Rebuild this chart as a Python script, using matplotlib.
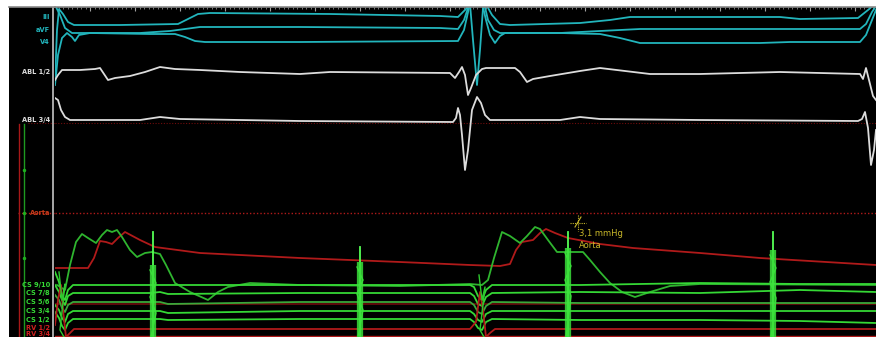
import numpy as np
import matplotlib.pyplot as plt
from matplotlib.ticker import MultipleLocator

# time in samples (screen columns), amplitude in display rows (0 at top)

# surface ECG
ecg_labels = ['III', 'aVF', 'V4']
ecg_label_y = [17, 30, 42]
iii_t = [55, 57, 59, 63, 68, 74, 120, 178, 188, 198, 210, 330, 440, 458, 465, 470, 473, 477, 480,
         483, 487, 492, 500, 510, 580, 610, 630, 780, 800, 858, 868, 876]
iii_v = [80, 30, 9, 14, 22, 25, 25, 24, 19, 14, 13, 14, 16, 17, 10, 4, 40, 85, 50,
         8, 6, 15, 24, 25, 23, 20, 17, 17, 19, 18, 10, 3]
avf_t = [55, 60, 65, 72, 140, 170, 185, 200, 300, 440, 458, 464, 468, 471, 484, 488, 494, 500,
         560, 600, 620, 640, 860, 866, 872, 876]
avf_v = [5, 15, 28, 33, 33, 31, 29, 27, 27, 28, 29, 20, 8, 3, 3, 20, 30, 33,
         33, 31, 30, 29, 29, 24, 12, 6]
v4_t = [55, 58, 62, 67, 72, 75, 79, 90, 150, 175, 185, 195, 205, 300, 458, 464, 469, 472, 482,
        486, 490, 495, 500, 505, 560, 600, 620, 640, 760, 790, 860, 866, 872, 876]
v4_v = [85, 55, 38, 33, 37, 41, 35, 33, 34, 34, 37, 41, 42, 42, 41, 30, 8, 3, 3,
        20, 35, 43, 36, 33, 33, 34, 38, 43, 43, 42, 42, 35, 20, 10]

# ablation catheter
abl12_t = [55, 58, 62, 80, 95, 100, 104, 108, 115, 130, 145, 160, 175, 200, 240, 300, 330, 450,
           455, 459, 462, 465, 468, 471, 476, 482, 486, 515, 520, 527, 533, 550, 580, 600, 650,
           700, 780, 860, 863, 866, 869, 873, 876]
abl12_v = [80, 75, 70, 70, 69, 68, 74, 80, 78, 76, 72, 67, 69, 70, 72, 74, 72, 73,
           78, 72, 67, 75, 95, 88, 75, 69, 68, 68, 72, 82, 79, 76, 71, 68, 74,
           74, 72, 74, 79, 68, 80, 96, 100]
abl34_t = [55, 58, 61, 65, 70, 140, 160, 180, 300, 453, 456, 458, 460, 462, 465, 468, 472, 477,
           481, 485, 490, 560, 580, 600, 700, 858, 862, 865, 868, 871, 874, 876]
abl34_v = [98, 100, 110, 117, 120, 120, 117, 119, 121, 122, 118, 108, 115, 135, 170, 150, 110, 97,
           103, 115, 120, 120, 117, 119, 120, 121, 119, 112, 128, 165, 150, 130]

# pressures
aorta_t = [55, 88, 94, 100, 106, 112, 118, 125, 140, 155, 200, 300, 400, 470, 500, 510, 516, 522,
           533, 540, 546, 555, 568, 600, 633, 700, 760, 876]
aorta_v = [268, 268, 258, 241, 242, 244, 238, 232, 240, 247, 253, 258, 262, 265, 266, 264, 250, 242,
           240, 233, 229, 233, 238, 244, 248, 253, 258, 265]
lv_t = [57, 65, 70, 76, 82, 88, 96, 102, 107, 112, 117, 122, 130, 137, 145, 152, 160, 166, 175,
        190, 208, 218, 228, 250, 300, 400, 470, 482, 488, 494, 502, 510, 520, 527, 535, 540, 548,
        557, 570, 583, 590, 600, 610, 622, 635, 650, 670, 700, 876]
lv_v = [285, 290, 265, 242, 234, 238, 243, 235, 230, 232, 230, 237, 250, 257, 253, 252, 254, 265, 283,
        292, 300, 292, 287, 283, 285, 286, 284, 285, 280, 258, 232, 236, 243, 236, 227, 229, 240,
        252, 252, 252, 260, 272, 283, 292, 297, 292, 286, 284, 285]

# coronary sinus and RV
cs_labels = ['CS 9/10', 'CS 7/8', 'CS 5/6', 'CS 3/4', 'CS 1/2']
cs_label_y = [285, 293, 302, 311, 320]
cs_t = [55, 59, 62, 65, 68, 73, 150, 160, 168, 300, 470, 474, 478, 482, 486, 492, 580, 700, 800, 876]
cs_v = [
    [272, 282, 296, 300, 290, 285, 285, 285, 285, 285, 285, 287, 296, 300, 290, 285, 285, 283, 284, 284],
    [285, 292, 300, 305, 296, 293, 293, 292, 294, 293, 293, 296, 304, 306, 297, 293, 292, 293, 290, 292],
    [295, 300, 308, 312, 305, 302, 302, 302, 304, 302, 302, 305, 312, 314, 306, 302, 303, 303, 303, 303],
    [305, 310, 318, 322, 314, 311, 311, 311, 313, 311, 311, 314, 320, 322, 314, 311, 311, 311, 311, 311],
    [312, 318, 326, 330, 323, 319, 319, 319, 320, 319, 319, 322, 328, 330, 322, 319, 320, 320, 321, 323],
]
rv_labels = ['RV 1/2', 'RV 3/4']
rv_label_y = [328, 334]
rv12_t = [55, 58, 61, 63, 66, 70, 74, 470, 476, 480, 483, 486, 490, 495, 876]
rv12_v = [325, 300, 285, 310, 337, 333, 329, 329, 322, 292, 310, 337, 333, 329, 329]

# far-field ventricular spikes and atrial clusters on CS
v_spike_t = [153, 360, 568, 773]
v_spike_top = [232, 247, 232, 232]
v_blob_top = [265, 262, 248, 250]
a_blob_t = [61, 481]
a_blob_top = [272, 275]

# caliper readout
cursor_t, cursor_v = 578, 223
cursor_text = ['3,1 mmHg', 'Aorta']

CYAN = '#22b5bc'
WHITE = '#dcdcdc'
GREEN = '#35d835'
LVGREEN = '#2fb52f'
RED = '#b01a1a'
DKRED = '#6e0c0c'
YELLOW = '#c9b82a'

fig = plt.figure(figsize=(8.76, 3.37), dpi=100, facecolor='white')
W, H = 876.0, 337.0

ax_lab = fig.add_axes([9 / W, 0, 46 / W, 330 / H])
ax = fig.add_axes([55 / W, 0, 821 / W, 330 / H])
for a in (ax_lab, ax):
    a.set_facecolor('black')
    a.set_ylim(337, 7)
    for s in a.spines.values():
        s.set_visible(False)
    a.spines['top'].set_visible(True)
    a.spines['top'].set_color('#8a8a8a')
    a.spines['top'].set_linewidth(1.2)
ax_lab.set_xlim(9, 55)
ax.set_xlim(55, 876)
ax_lab.set_xticks([])
ax_lab.set_yticks([])
ax.set_yticks([])
ax.xaxis.tick_top()
ax.xaxis.set_major_locator(MultipleLocator(45))
ax.xaxis.set_minor_locator(MultipleLocator(4.5))
ax.tick_params(axis='x', which='major', direction='in', length=3, color='#a0a0a0',
               labeltop=False, labelbottom=False)
ax.tick_params(axis='x', which='minor', direction='in', length=1.5, color='#8a8a8a')

# reference lines
ax.axhline(123, color=DKRED, lw=0.8, ls=(0, (1, 1.5)))
ax_lab.plot([28, 55], [123, 123], color=DKRED, lw=0.8, ls=(0, (1, 1.5)))
ax.axhline(213, color=RED, lw=1.0, ls=(0, (1, 1.5)))
ax_lab.plot([18, 55], [213, 213], color=RED, lw=1.0, ls=(0, (1, 1.5)))
ax.axhline(304, color=DKRED, lw=1.2)

# pressure scale bars
ax_lab.plot([19, 19], [124, 337], color='#a81818', lw=1.0)
ax_lab.plot([24, 24], [124, 337], color='#1f9a1f', lw=1.0)
ax_lab.plot([24, 24, 24], [170, 213, 258], ls='none', marker='o', ms=1.5, color='#1fb01f')

LW = 1.3
# ECG
for tt, vv in [(iii_t, iii_v), (avf_t, avf_v), (v4_t, v4_v)]:
    ax.plot(tt, vv, color=CYAN, lw=LW)
ax.plot(abl12_t, abl12_v, color=WHITE, lw=LW)
ax.plot(abl34_t, abl34_v, color=WHITE, lw=LW)

# pressures
ax.plot(aorta_t, aorta_v, color=RED, lw=LW)
ax.plot(lv_t, lv_v, color=LVGREEN, lw=LW)

# CS / RV
cs_colors = [GREEN, GREEN, '#3aa83a', GREEN, GREEN]
for vv, c in zip(cs_v, cs_colors):
    ax.plot(cs_t, vv, color=c, lw=LW)
ax.plot(rv12_t, rv12_v, color=RED, lw=LW)
ax.axhline(336, color=RED, lw=1.0)

for t, top, btop in zip(v_spike_t, v_spike_top, v_blob_top):
    ax.plot([t, t], [top, 337], color='#55ff55', lw=1.3)
    ax.plot([t, t], [btop, 337], color='#3ae03a', lw=4.5, alpha=0.85, solid_capstyle='butt')
    ax.plot([t - 3, t + 3, t - 3, t + 3, t - 2], [btop + 5, btop + 18, btop + 32, btop + 48, 337],
            color='#3ae03a', lw=1.0)
for t, top in zip(a_blob_t, a_blob_top):
    ax.plot([t - 2, t + 1, t + 4, t - 1, t + 3], [top, 300, top + 12, 330, 337],
            color='#2ec92e', lw=1.0)

# caliper
ax.plot([cursor_t - 8, cursor_t + 8], [cursor_v, cursor_v], color=YELLOW, lw=0.8, ls=(0, (1, 1)))
ax.plot([cursor_t, cursor_t], [cursor_v - 8, cursor_v + 8], color=YELLOW, lw=0.8, ls=(0, (1, 1)))
ax.plot([cursor_t - 3, cursor_t + 3], [cursor_v + 4, cursor_v - 6], color=YELLOW, lw=0.8)
ax.text(cursor_t + 1, cursor_v + 10, cursor_text[0], color=YELLOW, fontsize=6,
        va='center', ha='left')
ax.text(cursor_t + 1, cursor_v + 22, cursor_text[1], color=YELLOW, fontsize=6,
        va='center', ha='left')

# cursor line and channel labels
ax_lab.axvline(53, color='#a8a8a8', lw=1.4)
lab_kw = dict(fontsize=4.8, fontweight='bold', ha='right', va='center')
for s, y in zip(ecg_labels, ecg_label_y):
    ax_lab.text(50, y, s, color=CYAN, **lab_kw)
ax_lab.text(50, 72, 'ABL 1/2', color=WHITE, **lab_kw)
ax_lab.text(50, 120, 'ABL 3/4', color=WHITE, **lab_kw)
ax_lab.text(50, 213, 'Aorta', color='#c83a1a', **lab_kw)
for s, y in zip(cs_labels, cs_label_y):
    ax_lab.text(50, y, s, color=GREEN, **lab_kw)
for s, y in zip(rv_labels, rv_label_y):
    ax_lab.text(50, y, s, color='#d02020', **lab_kw)

plt.savefig('out.png', dpi=100, facecolor='white')
